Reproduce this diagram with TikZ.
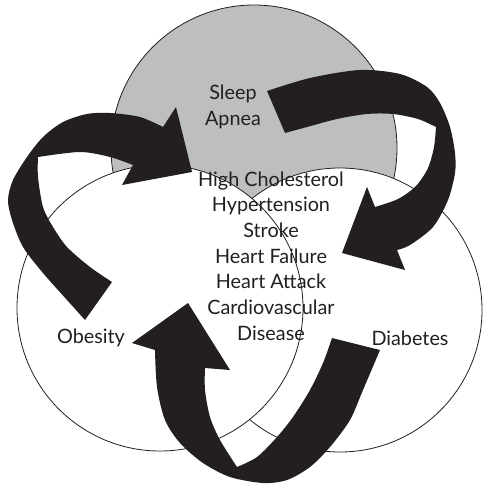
\documentclass[tikz,border=0pt]{standalone}
\usepackage{fontspec}
\setmainfont{Lato}
\usepackage{xcolor}
\definecolor{apneagray}{RGB}{188,190,192}
\definecolor{inkblack}{RGB}{35,31,32}
\tikzset{
    riskcircle/.style={
        draw=inkblack,
        line width=0.8pt
    },
    ribbon/.style={fill=inkblack},
    condition/.style={
        font={\fontsize{19.8pt}{25.7pt}\selectfont},
        align=center,
        text=inkblack,
        inner sep=0pt
    },
}

\begin{document}
\begin{tikzpicture}[x=1pt, y=-1pt]
    \useasboundingbox (0,0) rectangle (482,487);

    % centres of the three circles
    \coordinate (apnea)    at (254,148);
    \coordinate (diabetes) at (340,310);
    \coordinate (obesity)  at (160,308);

    \filldraw[riskcircle, fill=apneagray] (apnea) circle (143);
    \filldraw[riskcircle, fill=white] (diabetes) circle (142);
    \filldraw[riskcircle, fill=white] (obesity) circle (143);

    % Obesity -> Sleep Apnea
    \fill[ribbon] plot[smooth] coordinates {(85,320) (67,300) (43,273) (23,247) (12,220) (8,200) (13,180) (27,157) (43,137) (63,122) (87,114) (110,113) (140,117) (163,127)}
        -- (176,107) -- (192,172) -- (122,185)
        -- plot[smooth] coordinates {(133,165) (110,157) (80,152) (38,157)}
        -- plot[smooth] coordinates {(38,157) (38,177) (43,207) (53,227) (67,247) (90,267) (112,282)}
        -- cycle;

    % Sleep Apnea -> Diabetes
    \fill[ribbon] plot[smooth] coordinates {(267,91) (310,78) (360,70) (400,74) (427,87) (440,103) (450,127) (455,153) (455,173) (448,200) (433,227) (410,245) (397,250)}
        -- (405,270) -- (342,253) -- (367,187)
        -- plot[smooth] coordinates {(375,207) (398,199) (416,186) (428,168) (434,147) (436,127)}
        -- plot[smooth] coordinates {(436,127) (418,119) (393,114) (367,114) (337,119) (307,127) (285,133)}
        -- cycle;

    % Diabetes -> Obesity
    \fill[ribbon] plot[smooth] coordinates {(380,350) (363,390) (350,420) (330,447) (310,467) (287,480) (263,483) (230,477) (203,463) (180,443) (165,420) (157,387) (155,350)}
        -- (132,343) -- (188,303) -- (230,370)
        -- plot[smooth] coordinates {(205,368) (205,390) (210,417) (220,440) (237,467)}
        -- plot[smooth] coordinates {(237,467) (257,457) (277,437) (293,417) (310,390) (323,363) (332,338)}
        -- cycle;

    % labels
    \node[condition] (sleep) at (233,107) {Sleep\\Apnea};
    \node[condition] (disorders) at (271,256) {High Cholesterol\\Hypertension\\Stroke\\Heart Failure\\Heart Attack\\Cardiovascular\\Disease};
    \node[condition] (obese) at (91,338) {Obesity};
    \node[condition] (diab) at (410,338) {Diabetes};
\end{tikzpicture}
\end{document}
